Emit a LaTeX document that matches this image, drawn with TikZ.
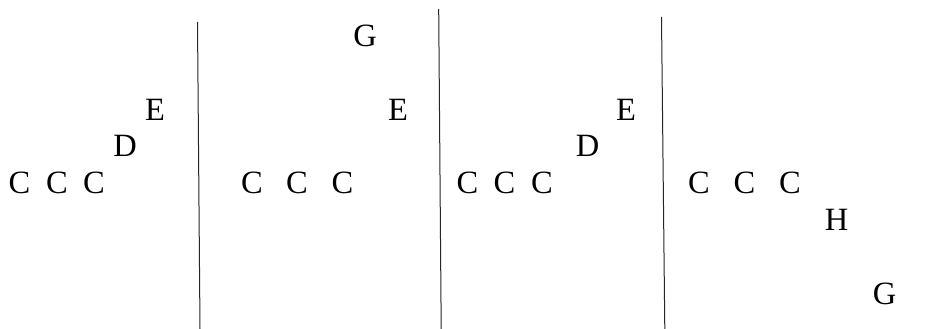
\documentclass[tikz,border=0pt]{standalone}
\usepackage{fontspec}
\setmainfont{Liberation Serif}
\usepackage{tikz}
\usetikzlibrary{positioning}
\tikzstyle{letter} = [inner sep=0pt, anchor=center, font=\fontsize{32.5}{39}\selectfont]
\tikzstyle{divider} = [line width=1pt, black!85]

\begin{document}
\begin{tikzpicture}[x=1pt, y=-1pt]
    \useasboundingbox (0,0) rectangle (927,329);
    % panel 1
    \node[letter] (a1) at (19.5,183) {C};
    \node[letter] (a2) at (57,183) {C};
    \node[letter] (a3) at (94,183) {C};
    \node[letter] (aD) at (125,146) {D};
    \node[letter] (aE) at (155,110) {E};
    % panel 2
    \node[letter] (b1) at (252,183) {C};
    \node[letter] (b2) at (297,183) {C};
    \node[letter] (b3) at (342.5,183) {C};
    \node[letter] (bE) at (398,110) {E};
    \node[letter] (bG) at (365,36) {G};
    % panel 3
    \node[letter] (c1) at (467.5,183) {C};
    \node[letter] (c2) at (504.5,183) {C};
    \node[letter] (c3) at (542,183) {C};
    \node[letter] (cD) at (587.5,146) {D};
    \node[letter] (cE) at (626,110) {E};
    % panel 4
    \node[letter] (d1) at (699,183) {C};
    \node[letter] (d2) at (744.5,183) {C};
    \node[letter] (d3) at (790,183) {C};
    \node[letter] (dH) at (836.5,219.5) {H};
    \node[letter] (dG) at (884.5,294) {G};
    % dividers
    \coordinate (s1t) at (197.5,22);
    \coordinate (s1b) at (200,329);
    \coordinate (s2t) at (438.7,9);
    \coordinate (s2b) at (441.2,329);
    \coordinate (s3t) at (661.5,17);
    \coordinate (s3b) at (664.8,329);
    \draw[divider] (s1t) -- (s1b);
    \draw[divider] (s2t) -- (s2b);
    \draw[divider] (s3t) -- (s3b);
  \end{tikzpicture}
\end{document}
